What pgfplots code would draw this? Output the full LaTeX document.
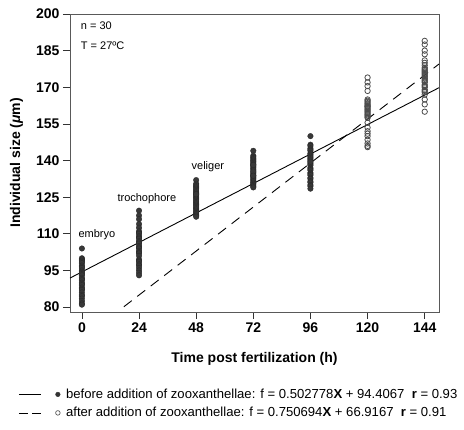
\documentclass[border=0pt]{standalone}
\usepackage{pgfplots}
\pgfplotsset{compat=1.18}
\usepackage{fontspec}
\setmainfont{Liberation Sans}
\begin{document}
\begin{tikzpicture}
\useasboundingbox (-70pt,-118pt) rectangle (394pt,312pt);
\begin{axis}[
  at={(0pt,0pt)}, anchor=south west,
  scale only axis, width=369pt, height=298pt,
  xmin=-5, xmax=150, ymin=78, ymax=200,
  xtick={0,24,48,72,96,120,144},
  ytick={80,95,110,125,140,155,170,185,200},
  tick align=outside, major tick length=7pt,
  xtick pos=bottom, ytick pos=left,
  axis line style={black!65, line width=0.8pt},
  tick style={black!80, line width=0.8pt},
  /pgf/number format/assume math mode=true,
  ticklabel style={font=\bfseries\fontsize{14}{14}\selectfont},
  xlabel={\bfseries Time post fertilization (h)},
  ylabel={\bfseries Individual size ({\itshape μ}m)},
  label style={font=\bfseries\fontsize{14}{16}\selectfont},
  xlabel style={at={(axis description cs:0.5,-0.158)}, anchor=center},
  ylabel style={at={(axis description cs:-0.145,0.5)}, anchor=center},
  legend style={draw=none, fill=none, at={(axis description cs:-0.148,-0.244)}, anchor=north west,
    font=\fontsize{13.1}{14.5}\selectfont, row sep=3.5pt, cells={anchor=west}},
  legend cell align=left,
  clip=true,
]
% before addition (filled)
\addplot[only marks, mark=*, mark size=2.8pt, mark options={fill=black!78, draw=black!85, line width=0.3pt}, forget plot] coordinates {
(0,104) (0,100) (0,99.5) (0,99) (0,98.5) (0,98) (0,97) (0,96.5) (0,96) (0,95)
(0,94.5) (0,94) (0,93.5) (0,93) (0,92) (0,91.5) (0,91) (0,90) (0,89.5) (0,89)
(0,88) (0,87.5) (0,87) (0,86) (0,85) (0,84.5) (0,83.5) (0,82.5) (0,81.5) (0,81)
(24,119.5) (24,117.5) (24,116) (24,114) (24,112.5) (24,111) (24,110.5) (24,110) (24,109) (24,108.5)
(24,108) (24,107) (24,106.5) (24,106) (24,105) (24,104.5) (24,104) (24,103) (24,102.5) (24,102)
(24,101) (24,99.5) (24,99) (24,98.5) (24,97.5) (24,97) (24,96) (24,95) (24,94) (24,93)
(48,132) (48,130.5) (48,130) (48,129.5) (48,129) (48,128.5) (48,128) (48,127.5) (48,127) (48,126.5)
(48,126) (48,125.5) (48,125) (48,124.5) (48,124) (48,123.5) (48,123) (48,122.5) (48,122) (48,121.5)
(48,121) (48,120.5) (48,120) (48,119.5) (48,119) (48,118.5) (48,118) (48,117.5) (48,117) (48,126.2)
(72,144) (72,142) (72,141.5) (72,141) (72,140.5) (72,140) (72,139.5) (72,139) (72,138.5) (72,138)
(72,137.5) (72,137) (72,136.5) (72,136) (72,135) (72,134.5) (72,134) (72,133.5) (72,133) (72,132.5)
(72,132) (72,131.5) (72,131) (72,130.5) (72,130) (72,129.5) (72,129) (72,135.5) (72,138.2) (72,133.8)
(96,150) (96,146.5) (96,146) (96,145) (96,144.5) (96,144) (96,143) (96,142.5) (96,142) (96,141.5)
(96,141) (96,140.5) (96,140) (96,139) (96,138.5) (96,138) (96,137) (96,136.5) (96,136) (96,135)
(96,134.5) (96,134) (96,133) (96,132.5) (96,131.5) (96,131) (96,130) (96,129.5) (96,128.5) (96,139.5)
};
% after addition (open)
\addplot[only marks, mark=o, mark size=2.7pt, mark options={draw=black!70, fill=white, line width=0.8pt}, forget plot] coordinates {
(120,174) (120,172) (120,170.5) (120,168.5) (120,165) (120,164) (120,163.5) (120,163) (120,162.5) (120,162)
(120,161.5) (120,161) (120,160.5) (120,160) (120,159.5) (120,159) (120,158.5) (120,158) (120,157.5) (120,155.5)
(120,153.5) (120,152) (120,151) (120,150) (120,148.5) (120,147) (120,146) (120,145.5) (120,164.5) (120,162.2)
(144,189) (144,187.5) (144,185) (144,183.5) (144,181) (144,180) (144,179) (144,178) (144,177.5) (144,177)
(144,176.5) (144,176) (144,175.5) (144,175) (144,174.5) (144,174) (144,173.5) (144,173) (144,172.5) (144,172)
(144,171) (144,170.5) (144,170) (144,169) (144,168.5) (144,168) (144,167) (144,165) (144,163) (144,160)
};
% regression lines
\addplot[black, line width=0.9pt, forget plot] coordinates {(-5,91.893) (150,169.823)};
\addplot[black, line width=0.9pt, dash pattern=on 10pt off 7pt, forget plot] coordinates {(17.6,80.13) (150,179.52)};
% legend
\addlegendimage{legend image code/.code={
  \draw[black, line width=0.6pt] (0pt,0pt) -- (22pt,0pt);
  \fill[black!80] (39pt,0pt) circle (2.3pt);
  \path (45pt,0pt);}}
\addlegendentry{before addition of zooxanthellae: f = 0.502778\textbf{X} + 94.4067\ \ \textbf{r} = 0.93}
\addlegendimage{legend image code/.code={
  \draw[black, line width=0.6pt, dash pattern=on 9pt off 4pt] (0pt,0pt) -- (22pt,0pt);
  \draw[black!75, fill=white, line width=0.6pt] (39pt,0pt) circle (2.3pt);
  \path (45pt,0pt);}}
\addlegendentry{after addition of zooxanthellae: f = 0.750694\textbf{X} + 66.9167\ \ \textbf{r} = 0.91}
% annotations
\node[anchor=west, font=\fontsize{11}{11}\selectfont] at (axis description cs:0.02,0.96) {n = 30};
\node[anchor=west, font=\fontsize{11}{11}\selectfont] at (axis description cs:0.02,0.893) {T = 27ºC};
\node[font=\fontsize{11}{11}\selectfont] at (axis cs:6.3,109.5) {embryo};
\node[font=\fontsize{11}{11}\selectfont] at (axis cs:27.3,124.6) {trochophore};
\node[font=\fontsize{11}{11}\selectfont] at (axis cs:52.9,137.7) {veliger};
\end{axis}
\end{tikzpicture}
\end{document}
